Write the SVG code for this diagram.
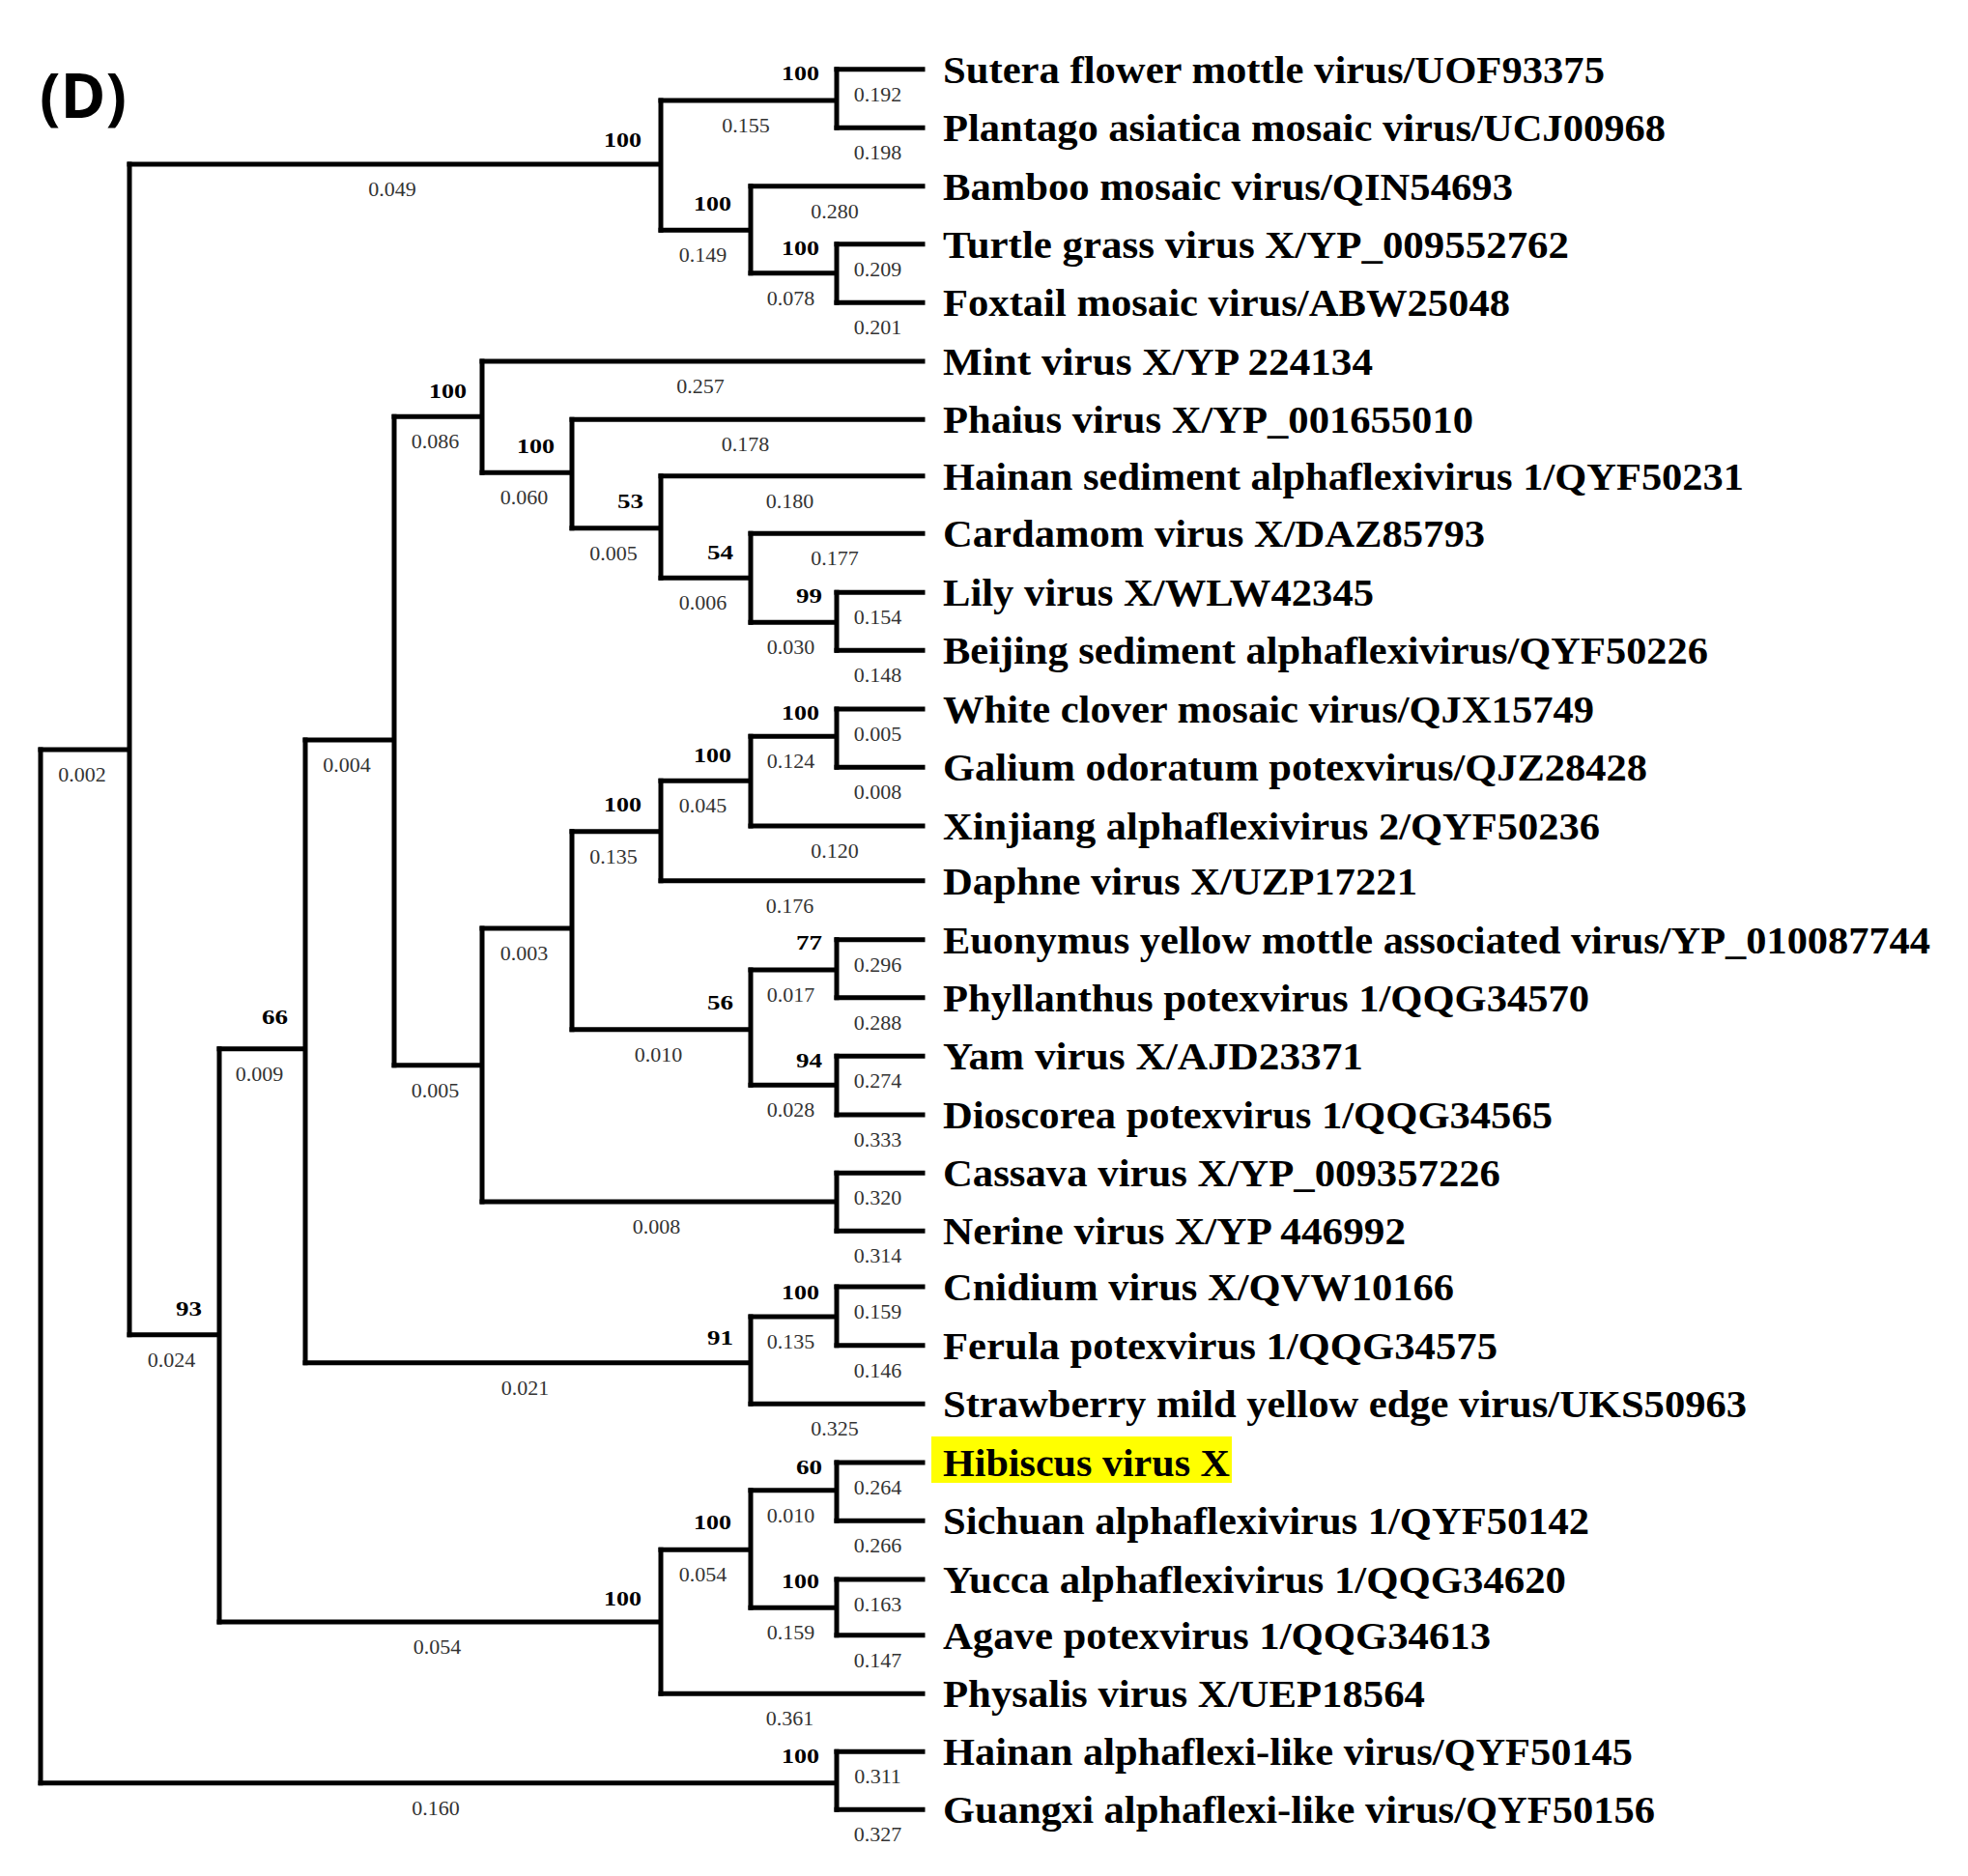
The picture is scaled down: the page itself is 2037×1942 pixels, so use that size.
<svg xmlns="http://www.w3.org/2000/svg" width="2037" height="1942" viewBox="0 0 2037 1942">
<style>
.br{stroke:#000;stroke-width:5;fill:none;stroke-linecap:square}
.lf{font-family:"Liberation Serif",serif;font-weight:bold;font-size:41px;fill:#000}
.bl{font-family:"Liberation Serif",serif;font-size:22px;fill:#333;text-anchor:middle}
.bs{font-family:"Liberation Serif",serif;font-weight:bold;font-size:21px;fill:#000;text-anchor:end}
</style>
<rect width="2037" height="1942" fill="#fff"/>
<text x="41" y="122" font-family="'Open Sans','Liberation Sans',sans-serif" font-weight="bold" font-size="64" textLength="90" lengthAdjust="spacingAndGlyphs">(D)</text>
<g id="connectors" class="br">
<path d="M42 776V1309M42 1313V1845.7"/>
<path d="M42 776H134M134 170V1381.7"/>
<path d="M134 170H684M684 104V238.3"/>
<path d="M684 104H866M866 71.7V132.3"/>
<path d="M684 238.3H777M777 192.7V282.7"/>
<path d="M777 282.7H866M866 252.7V313.3"/>
<path d="M134 1381.7H227M227 1085.7V1679"/>
<path d="M227 1085.7H316M316 766V1410.7"/>
<path d="M316 766H408M408 431.3V1102.7"/>
<path d="M408 431.3H499M499 374V489.3"/>
<path d="M499 489.3H592M592 434.3V546.7"/>
<path d="M592 546.7H684M684 492.7V598.3"/>
<path d="M684 598.3H777M777 552.3V644.3"/>
<path d="M777 644.3H866M866 613.3V673.3"/>
<path d="M408 1102.7H499M499 961V1244"/>
<path d="M499 961H592M592 860.7V1065.7"/>
<path d="M592 860.7H684M684 808.3V911.7"/>
<path d="M684 808.3H777M777 762.3V855"/>
<path d="M777 762.3H866M866 734V794.3"/>
<path d="M592 1065.7H777M777 1004V1123.3"/>
<path d="M777 1004H866M866 972.7V1032.7"/>
<path d="M777 1123.3H866M866 1093.3V1154"/>
<path d="M499 1244H866M866 1214.3V1274.3"/>
<path d="M316 1410.7H777M777 1363V1453.3"/>
<path d="M777 1363H866M866 1332V1392.7"/>
<path d="M227 1679H684M684 1604.3V1753.3"/>
<path d="M684 1604.3H777M777 1542.7V1664.3"/>
<path d="M777 1542.7H866M866 1514V1574.3"/>
<path d="M777 1664.3H866M866 1635V1692.7"/>
<path d="M42 1845.7H866M866 1813.3V1873.3"/>
<path d="M866 71.7H955M866 132.3H955M777 192.7H955M866 252.7H955M866 313.3H955M499 374H955M592 434.3H955M684 492.7H955M777 552.3H955M866 613.3H955M866 673.3H955M866 734H955M866 794.3H955M777 855H955M684 911.7H955M866 972.7H955M866 1032.7H955M866 1093.3H955M866 1154H955M866 1214.3H955M866 1274.3H955M866 1332H955M866 1392.7H955M777 1453.3H955M866 1514H955M866 1574.3H955M866 1635H955M866 1692.7H955M684 1753.3H955M866 1813.3H955M866 1873.3H955"/>
</g>
<g id="branch-lengths" class="bl">
<text x="85" y="809">0.002</text>
<text x="406" y="203">0.049</text>
<text x="772" y="137">0.155</text>
<text x="727.5" y="271.3">0.149</text>
<text x="818.5" y="315.7">0.078</text>
<text x="177.5" y="1414.7">0.024</text>
<text x="268.5" y="1118.7">0.009</text>
<text x="359" y="799">0.004</text>
<text x="450.5" y="464.3">0.086</text>
<text x="542.5" y="522.3">0.060</text>
<text x="635" y="579.7">0.005</text>
<text x="727.5" y="631.3">0.006</text>
<text x="818.5" y="677.3">0.030</text>
<text x="450.5" y="1135.7">0.005</text>
<text x="542.5" y="994">0.003</text>
<text x="635" y="893.7">0.135</text>
<text x="727.5" y="841.3">0.045</text>
<text x="818.5" y="795.3">0.124</text>
<text x="681.5" y="1098.7">0.010</text>
<text x="818.5" y="1037">0.017</text>
<text x="818.5" y="1156.3">0.028</text>
<text x="679.5" y="1277">0.008</text>
<text x="543.5" y="1443.7">0.021</text>
<text x="818.5" y="1396">0.135</text>
<text x="452.5" y="1712">0.054</text>
<text x="727.5" y="1637.3">0.054</text>
<text x="818.5" y="1575.7">0.010</text>
<text x="818.5" y="1697.3">0.159</text>
<text x="451" y="1878.7">0.160</text>
<text x="908.5" y="104.7">0.192</text>
<text x="908.5" y="165.3">0.198</text>
<text x="864" y="225.7">0.280</text>
<text x="908.5" y="285.7">0.209</text>
<text x="908.5" y="346.3">0.201</text>
<text x="725" y="407">0.257</text>
<text x="771.5" y="467.3">0.178</text>
<text x="817.5" y="525.7">0.180</text>
<text x="864" y="585.3">0.177</text>
<text x="908.5" y="646.3">0.154</text>
<text x="908.5" y="706.3">0.148</text>
<text x="908.5" y="767">0.005</text>
<text x="908.5" y="827.3">0.008</text>
<text x="864" y="888">0.120</text>
<text x="817.5" y="944.7">0.176</text>
<text x="908.5" y="1005.7">0.296</text>
<text x="908.5" y="1065.7">0.288</text>
<text x="908.5" y="1126.3">0.274</text>
<text x="908.5" y="1187">0.333</text>
<text x="908.5" y="1247.3">0.320</text>
<text x="908.5" y="1307.3">0.314</text>
<text x="908.5" y="1365">0.159</text>
<text x="908.5" y="1425.7">0.146</text>
<text x="864" y="1486.3">0.325</text>
<text x="908.5" y="1547">0.264</text>
<text x="908.5" y="1607.3">0.266</text>
<text x="908.5" y="1668">0.163</text>
<text x="908.5" y="1725.7">0.147</text>
<text x="817.5" y="1786.3">0.361</text>
<text x="908.5" y="1846.3">0.311</text>
<text x="908.5" y="1906.3">0.327</text>
</g>
<g id="internal-nodes" class="bs">
<g id="n-B"><text x="664" y="152" textLength="39" lengthAdjust="spacingAndGlyphs">100</text></g>
<g id="n-B1"><text x="848" y="83" textLength="39" lengthAdjust="spacingAndGlyphs">100</text></g>
<g id="n-B2"><text x="757" y="218" textLength="39" lengthAdjust="spacingAndGlyphs">100</text></g>
<g id="n-B3"><text x="848" y="264" textLength="39" lengthAdjust="spacingAndGlyphs">100</text></g>
<g id="n-C"><text x="209" y="1362" textLength="27" lengthAdjust="spacingAndGlyphs">93</text></g>
<g id="n-D"><text x="298" y="1060" textLength="27" lengthAdjust="spacingAndGlyphs">66</text></g>
<g id="n-F"><text x="483" y="412" textLength="39" lengthAdjust="spacingAndGlyphs">100</text></g>
<g id="n-G"><text x="574" y="469" textLength="39" lengthAdjust="spacingAndGlyphs">100</text></g>
<g id="n-H"><text x="666" y="526" textLength="27" lengthAdjust="spacingAndGlyphs">53</text></g>
<g id="n-I"><text x="759" y="579" textLength="27" lengthAdjust="spacingAndGlyphs">54</text></g>
<g id="n-J"><text x="851" y="624" textLength="27" lengthAdjust="spacingAndGlyphs">99</text></g>
<g id="n-M"><text x="664" y="840" textLength="39" lengthAdjust="spacingAndGlyphs">100</text></g>
<g id="n-N"><text x="757" y="789" textLength="39" lengthAdjust="spacingAndGlyphs">100</text></g>
<g id="n-O"><text x="848" y="745" textLength="39" lengthAdjust="spacingAndGlyphs">100</text></g>
<g id="n-P"><text x="759" y="1045" textLength="27" lengthAdjust="spacingAndGlyphs">56</text></g>
<g id="n-Q"><text x="851" y="983" textLength="27" lengthAdjust="spacingAndGlyphs">77</text></g>
<g id="n-S"><text x="851" y="1105" textLength="27" lengthAdjust="spacingAndGlyphs">94</text></g>
<g id="n-U"><text x="759" y="1392" textLength="27" lengthAdjust="spacingAndGlyphs">91</text></g>
<g id="n-V"><text x="848" y="1345" textLength="39" lengthAdjust="spacingAndGlyphs">100</text></g>
<g id="n-W"><text x="664" y="1662" textLength="39" lengthAdjust="spacingAndGlyphs">100</text></g>
<g id="n-X"><text x="757" y="1583" textLength="39" lengthAdjust="spacingAndGlyphs">100</text></g>
<g id="n-Y"><text x="851" y="1526" textLength="27" lengthAdjust="spacingAndGlyphs">60</text></g>
<g id="n-Z2"><text x="848" y="1644" textLength="39" lengthAdjust="spacingAndGlyphs">100</text></g>
<g id="n-Zb"><text x="848" y="1825" textLength="39" lengthAdjust="spacingAndGlyphs">100</text></g>
</g>
<g id="leaves" class="lf">
<g id="leaf-sutera"><text x="976" y="85.7" textLength="685" lengthAdjust="spacingAndGlyphs">Sutera flower mottle virus/UOF93375</text></g>
<g id="leaf-plantago"><text x="976" y="146.3" textLength="748" lengthAdjust="spacingAndGlyphs">Plantago asiatica mosaic virus/UCJ00968</text></g>
<g id="leaf-bamboo"><text x="976" y="206.7" textLength="590" lengthAdjust="spacingAndGlyphs">Bamboo mosaic virus/QIN54693</text></g>
<g id="leaf-turtle"><text x="976" y="266.7" textLength="648" lengthAdjust="spacingAndGlyphs">Turtle grass virus X/YP_009552762</text></g>
<g id="leaf-foxtail"><text x="976" y="327.3" textLength="587" lengthAdjust="spacingAndGlyphs">Foxtail mosaic virus/ABW25048</text></g>
<g id="leaf-mint"><text x="976" y="388" textLength="445" lengthAdjust="spacingAndGlyphs">Mint virus X/YP 224134</text></g>
<g id="leaf-phaius"><text x="976" y="448.3" textLength="549" lengthAdjust="spacingAndGlyphs">Phaius virus X/YP_001655010</text></g>
<g id="leaf-hainan-sed"><text x="976" y="506.7" textLength="829" lengthAdjust="spacingAndGlyphs">Hainan sediment alphaflexivirus 1/QYF50231</text></g>
<g id="leaf-cardamom"><text x="976" y="566.3" textLength="561" lengthAdjust="spacingAndGlyphs">Cardamom virus X/DAZ85793</text></g>
<g id="leaf-lily"><text x="976" y="627.3" textLength="446" lengthAdjust="spacingAndGlyphs">Lily virus X/WLW42345</text></g>
<g id="leaf-beijing"><text x="976" y="687.3" textLength="792" lengthAdjust="spacingAndGlyphs">Beijing sediment alphaflexivirus/QYF50226</text></g>
<g id="leaf-whiteclover"><text x="976" y="748" textLength="674" lengthAdjust="spacingAndGlyphs">White clover mosaic virus/QJX15749</text></g>
<g id="leaf-galium"><text x="976" y="808.3" textLength="729" lengthAdjust="spacingAndGlyphs">Galium odoratum potexvirus/QJZ28428</text></g>
<g id="leaf-xinjiang"><text x="976" y="869" textLength="680" lengthAdjust="spacingAndGlyphs">Xinjiang alphaflexivirus 2/QYF50236</text></g>
<g id="leaf-daphne"><text x="976" y="925.7" textLength="491" lengthAdjust="spacingAndGlyphs">Daphne virus X/UZP17221</text></g>
<g id="leaf-euonymus"><text x="976" y="986.7" textLength="1022" lengthAdjust="spacingAndGlyphs">Euonymus yellow mottle associated virus/YP_010087744</text></g>
<g id="leaf-phyllanthus"><text x="976" y="1046.7" textLength="669" lengthAdjust="spacingAndGlyphs">Phyllanthus potexvirus 1/QQG34570</text></g>
<g id="leaf-yam"><text x="976" y="1107.3" textLength="435" lengthAdjust="spacingAndGlyphs">Yam virus X/AJD23371</text></g>
<g id="leaf-dioscorea"><text x="976" y="1168" textLength="631" lengthAdjust="spacingAndGlyphs">Dioscorea potexvirus 1/QQG34565</text></g>
<g id="leaf-cassava"><text x="976" y="1228.3" textLength="577" lengthAdjust="spacingAndGlyphs">Cassava virus X/YP_009357226</text></g>
<g id="leaf-nerine"><text x="976" y="1288.3" textLength="479" lengthAdjust="spacingAndGlyphs">Nerine virus X/YP 446992</text></g>
<g id="leaf-cnidium"><text x="976" y="1346" textLength="529" lengthAdjust="spacingAndGlyphs">Cnidium virus X/QVW10166</text></g>
<g id="leaf-ferula"><text x="976" y="1406.7" textLength="574" lengthAdjust="spacingAndGlyphs">Ferula potexvirus 1/QQG34575</text></g>
<g id="leaf-strawberry"><text x="976" y="1467.3" textLength="832" lengthAdjust="spacingAndGlyphs">Strawberry mild yellow edge virus/UKS50963</text></g>
<g id="leaf-hibiscus"><rect x="964" y="1487" width="311" height="48" fill="#ffff00"/><text x="976" y="1528" textLength="297" lengthAdjust="spacingAndGlyphs">Hibiscus virus X</text></g>
<g id="leaf-sichuan"><text x="976" y="1588.3" textLength="669" lengthAdjust="spacingAndGlyphs">Sichuan alphaflexivirus 1/QYF50142</text></g>
<g id="leaf-yucca"><text x="976" y="1649" textLength="645" lengthAdjust="spacingAndGlyphs">Yucca alphaflexivirus 1/QQG34620</text></g>
<g id="leaf-agave"><text x="976" y="1706.7" textLength="567" lengthAdjust="spacingAndGlyphs">Agave potexvirus 1/QQG34613</text></g>
<g id="leaf-physalis"><text x="976" y="1767.3" textLength="499" lengthAdjust="spacingAndGlyphs">Physalis virus X/UEP18564</text></g>
<g id="leaf-hainan-alpha"><text x="976" y="1827.3" textLength="714" lengthAdjust="spacingAndGlyphs">Hainan alphaflexi-like virus/QYF50145</text></g>
<g id="leaf-guangxi"><text x="976" y="1887.3" textLength="737" lengthAdjust="spacingAndGlyphs">Guangxi alphaflexi-like virus/QYF50156</text></g>
</g>
</svg>
